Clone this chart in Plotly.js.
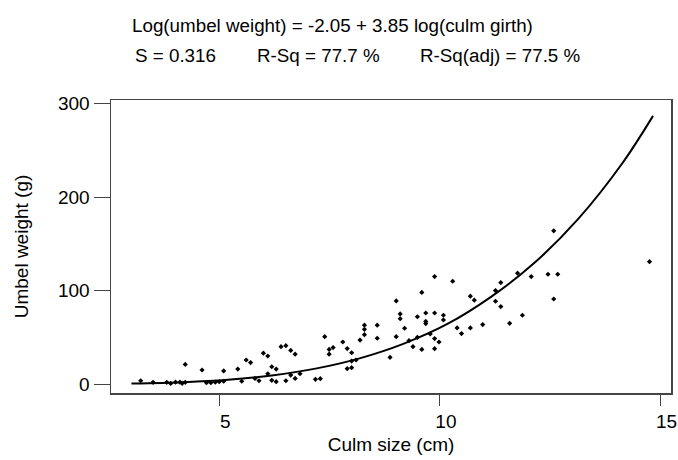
<!DOCTYPE html>
<html><head><meta charset="utf-8">
<script src="https://cdn.plot.ly/plotly-3.0.1.min.js"></script>
<style>body{margin:0;background:#fff}#c{width:678px;height:460px}</style>
</head><body><div id="c"></div>
<script>
const culmSize = [3.22,3.50,3.81,3.90,4.01,4.11,4.16,4.23,4.23,4.61,4.71,4.81,4.91,5.00,5.10,5.10,
5.42,5.51,5.61,5.71,5.81,5.90,6.00,6.10,6.10,6.19,6.19,6.29,6.29,6.40,6.51,6.51,6.62,6.62,6.72,6.72,6.83,
7.18,7.29,7.39,7.49,7.49,7.58,7.80,7.90,8.00,7.90,8.00,8.00,8.10,8.19,8.29,8.29,8.29,8.58,8.58,8.87,9.01,9.01,
9.10,9.10,9.20,9.30,9.39,9.49,9.49,9.59,9.59,9.68,9.68,9.68,9.78,9.88,9.88,9.88,9.88,9.98,10.08,10.08,
10.29,10.39,10.49,10.69,10.78,10.69,10.97,11.26,11.26,11.38,11.38,11.58,11.76,11.87,12.07,12.45,12.58,12.67,12.58,14.75];
const umbelWeight = [3.5,1.8,1.8,0.7,2,2,0.8,1.8,21,15,1.4,1.4,2,2.5,14,3,
16,3,25.7,23,6,3.5,33,30,11,18.5,4,16,2.5,40,41,3.5,36,9.6,32,6,11,
5,5.7,50.7,37,32,39,45,38,33.5,16.4,17.5,24.6,25.7,47,63,58.6,52.8,63,49,28.6,89,50.7,
75,70,59.7,46.4,40,72,50,98,37,76,67,64.7,53.6,115,76,48.6,37.8,45,73.6,68.6,
110,60,54,94,89.7,60,63.6,100,88.6,108.6,82.9,65,118.6,73.6,115,117.5,164,117.5,91,131];
const fitX = [3.01,4.21,5.2,6.19,7.18,8.18,9.17,10.16,11.15,12.15,13.14,14.13,14.83];
const fitY = [0.5,2,4.6,9.2,16.5,27.5,43,64,93,130,177,236,287];
const xTicks = [5,10,15];
const yTicks = [0,100,200,300];
const titleLine1 = 'Log(umbel weight) = -2.05 + 3.85 log(culm girth)';
const statS = 'S = 0.316';
const statR2 = 'R-Sq = 77.7 %';
const statR2adj = 'R-Sq(adj) = 77.5 %';

const font = {family:'Liberation Sans, Arial, sans-serif', color:'#000'};
const W = 678, L = 111, R = 7, plotW = W - L - R;
const px = p => (p - L) / plotW;
const data = [
 {x:culmSize, y:umbelWeight, type:'scatter', mode:'markers',
  marker:{symbol:'diamond', size:4, color:'#000'}, hoverinfo:'skip'},
 {x:fitX, y:fitY, type:'scatter', mode:'lines',
  line:{color:'#000', width:2, shape:'spline'}, hoverinfo:'skip'}
];
const ann = (text, xp, yshift) => ({text, xref:'paper', yref:'paper', x:px(xp), y:1, yshift,
  xanchor:'left', yanchor:'middle', showarrow:false, font:{size:18.8}});
const layout = {
 width:W, height:460, showlegend:false,
 paper_bgcolor:'#fff', plot_bgcolor:'#fff',
 margin:{l:L, r:R, t:100, b:67},
 font:Object.assign({size:19}, font),
 xaxis:{range:[2.547,15.237], tickvals:xTicks, ticktext:xTicks.map(String),
  ticks:'outside', ticklen:11, tickcolor:'#444', showline:true, linecolor:'#444', linewidth:1.5,
  mirror:true, showgrid:false, zeroline:false, tickfont:{size:19}, ticklabelshift:6,
  title:{text:'Culm size (cm)', font:{size:19}, standoff:6}},
 yaxis:{range:[-9.6,304], tickvals:yTicks, ticktext:yTicks.map(String),
  ticks:'outside', ticklen:16, tickcolor:'#444', showline:true, linecolor:'#444', linewidth:1.5,
  mirror:true, showgrid:false, zeroline:false, tickfont:{size:19},
  title:{text:'Umbel weight (g)', font:{size:19}, standoff:24}},
 annotations:[
  ann(titleLine1, 130, 75),
  ann(statS, 133, 45),
  ann(statR2, 255, 45),
  ann(statR2adj, 418, 45)
 ]
};
Plotly.newPlot('c', data, layout, {staticPlot:true, displayModeBar:false});
</script></body></html>
